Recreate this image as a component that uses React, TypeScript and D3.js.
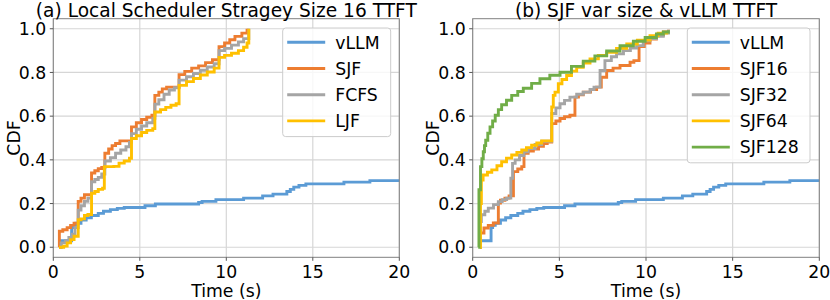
import React from 'react';
import * as d3 from 'd3';

type Pt = [number, number];

const xTicks = [0, 5, 10, 15, 20];
const yTicks = [0, 0.2, 0.4, 0.6, 0.8, 1.0];

// step points: [time (s), cdf]
const vllm: Pt[] = [
  [0.42, 0], [0.45, 0.03], [1.06, 0.09], [1.15, 0.1], [1.3, 0.11], [1.6, 0.125],
  [1.9, 0.135], [2.2, 0.145], [2.6, 0.155], [2.9, 0.165], [3.3, 0.172], [3.7, 0.178],
  [4.1, 0.182], [5.3, 0.19], [5.9, 0.198], [8.4, 0.205], [8.6, 0.21], [9.4, 0.218],
  [11.0, 0.225], [12.1, 0.235], [12.7, 0.243], [13.5, 0.255], [13.7, 0.265],
  [13.9, 0.275], [14.2, 0.283], [14.6, 0.29], [16.8, 0.298], [18.3, 0.305], [21, 0.305],
];

const leftSJF: Pt[] = [
  [0.33, 0], [0.35, 0.073], [0.55, 0.08], [0.8, 0.09], [1.0, 0.1], [1.2, 0.11],
  [1.44, 0.21], [1.6, 0.225], [1.8, 0.24], [2.21, 0.34], [2.4, 0.35], [2.6, 0.36],
  [2.8, 0.365], [2.98, 0.43], [3.2, 0.45], [3.4, 0.465], [3.6, 0.475], [3.85, 0.487],
  [4.52, 0.551], [4.8, 0.57], [5.1, 0.585], [5.4, 0.595], [5.7, 0.604],
  [5.87, 0.695], [6.1, 0.71], [6.3, 0.725], [6.55, 0.733],
  [7.27, 0.79], [7.6, 0.805], [8.0, 0.82], [8.4, 0.83], [8.8, 0.845], [9.2, 0.858],
  [9.58, 0.918], [9.9, 0.935], [10.2, 0.95], [10.5, 0.965], [10.9, 0.98], [11.2, 1.0],
];

const leftFCFS: Pt[] = [
  [0.4, 0], [0.45, 0.02], [0.7, 0.03], [0.9, 0.045], [1.1, 0.06], [1.25, 0.09],
  [1.44, 0.17], [1.6, 0.19], [1.8, 0.21], [2.0, 0.225], [2.21, 0.3], [2.4, 0.31],
  [2.6, 0.32], [2.8, 0.335], [2.98, 0.395], [3.3, 0.41], [3.6, 0.43], [3.9, 0.445],
  [4.2, 0.46], [4.4, 0.48], [4.52, 0.52], [4.8, 0.54], [5.1, 0.555], [5.4, 0.57],
  [5.75, 0.59], [5.87, 0.655], [6.1, 0.675], [6.4, 0.7], [6.7, 0.72], [7.0, 0.73],
  [7.27, 0.765], [7.7, 0.78], [8.1, 0.795], [8.5, 0.81], [8.9, 0.825], [9.3, 0.84],
  [9.58, 0.9], [9.9, 0.91], [10.3, 0.925], [10.7, 0.94], [11.0, 0.955], [11.3, 1.0],
];

const leftLJF: Pt[] = [
  [0.33, 0], [0.6, 0.005], [0.8, 0.02], [1.0, 0.035], [1.2, 0.05],
  [1.44, 0.126], [1.6, 0.13], [1.8, 0.145], [2.0, 0.15],
  [2.21, 0.247], [2.4, 0.255], [2.6, 0.265], [2.85, 0.27],
  [2.95, 0.369], [3.5, 0.37], [3.8, 0.385], [4.1, 0.395], [4.4, 0.407],
  [4.52, 0.498], [4.8, 0.51], [5.1, 0.525], [5.4, 0.535], [5.75, 0.543],
  [5.87, 0.619], [6.2, 0.63], [6.5, 0.64], [6.8, 0.65], [7.1, 0.657],
  [7.27, 0.741], [7.7, 0.758], [8.1, 0.772], [8.5, 0.788], [8.9, 0.802], [9.3, 0.82],
  [9.58, 0.869], [9.9, 0.878], [10.3, 0.888], [10.7, 0.9], [11.0, 0.915], [11.2, 0.935],
  [11.3, 1.0],
];

const sjf16: Pt[] = [
  [0.42, 0], [0.45, 0.065], [0.65, 0.088], [0.9, 0.1], [1.19, 0.111],
  [1.48, 0.202], [1.6, 0.215], [1.86, 0.225], [2.1, 0.235],
  [2.35, 0.346], [2.6, 0.358], [2.83, 0.369], [2.96, 0.43], [3.2, 0.44],
  [3.5, 0.45], [3.8, 0.462], [4.08, 0.475], [4.3, 0.482], [4.56, 0.566],
  [4.8, 0.578], [5.04, 0.589], [5.3, 0.597], [5.61, 0.604], [5.9, 0.687],
  [6.1, 0.698], [6.38, 0.71], [6.8, 0.722], [7.15, 0.733], [7.42, 0.778],
  [7.73, 0.809], [8.1, 0.82], [8.5, 0.832], [9.08, 0.847], [9.3, 0.854],
  [9.6, 0.918], [9.9, 0.935], [10.23, 0.953], [10.6, 0.97], [11.0, 0.985], [11.3, 0.995],
];

const sjf32: Pt[] = [
  [0.42, 0], [0.45, 0.118], [0.5, 0.149], [0.7, 0.165], [0.9, 0.179], [1.2, 0.195],
  [1.48, 0.209], [1.7, 0.218], [1.96, 0.225], [2.2, 0.316], [2.3, 0.384],
  [2.45, 0.4], [2.7, 0.42], [2.95, 0.437], [3.2, 0.452], [3.6, 0.47], [3.98, 0.485],
  [4.56, 0.612], [4.8, 0.638], [5.04, 0.657], [5.3, 0.672], [5.61, 0.687],
  [6.0, 0.7], [6.38, 0.71], [6.77, 0.722], [7.0, 0.733], [7.35, 0.809],
  [7.63, 0.854], [8.0, 0.872], [8.3, 0.885], [8.7, 0.9], [9.1, 0.912], [9.46, 0.923],
  [9.84, 0.945], [10.23, 0.955], [10.6, 0.965], [11.0, 0.98], [11.3, 0.995],
];

const sjf64: Pt[] = [
  [0.42, 0], [0.45, 0.2], [0.5, 0.308], [0.6, 0.331], [0.85, 0.343], [1.1, 0.354],
  [1.4, 0.373], [1.67, 0.391], [1.95, 0.408], [2.25, 0.422], [2.55, 0.434],
  [2.83, 0.445], [3.1, 0.456], [3.4, 0.467], [3.7, 0.477], [3.98, 0.487],
  [4.56, 0.642], [4.65, 0.695], [4.75, 0.71], [4.94, 0.748], [5.15, 0.768],
  [5.42, 0.786], [5.7, 0.806], [6.0, 0.824], [6.38, 0.843], [6.77, 0.862],
  [7.25, 0.878], [7.73, 0.892], [8.3, 0.91], [8.89, 0.93], [9.5, 0.948],
  [10.23, 0.968], [10.7, 0.98], [11.2, 0.99],
];

const sjf128: Pt[] = [
  [0.32, 0], [0.36, 0.263], [0.45, 0.369], [0.53, 0.405], [0.61, 0.437],
  [0.68, 0.465], [0.75, 0.49], [0.87, 0.522], [1.0, 0.551], [1.15, 0.578],
  [1.3, 0.604], [1.48, 0.63], [1.67, 0.652], [1.95, 0.673], [2.25, 0.695],
  [2.6, 0.713], [2.92, 0.728], [3.4, 0.75], [3.88, 0.771], [4.45, 0.787],
  [5.04, 0.801], [5.7, 0.828], [6.38, 0.852], [7.05, 0.876], [7.73, 0.898],
  [8.5, 0.922], [9.27, 0.943], [9.95, 0.96], [10.6, 0.976], [11.0, 0.985], [11.29, 0.993],
];

const C = {
  vllm: '#5b9bd5', orange: '#ed7d31', gray: '#a5a5a5', yellow: '#ffc000', green: '#70ad47',
};

const leftSeries = [
  { name: 'vLLM', color: C.vllm, data: vllm },
  { name: 'SJF', color: C.orange, data: leftSJF },
  { name: 'FCFS', color: C.gray, data: leftFCFS },
  { name: 'LJF', color: C.yellow, data: leftLJF },
];

const rightSeries = [
  { name: 'vLLM', color: C.vllm, data: vllm },
  { name: 'SJF16', color: C.orange, data: sjf16 },
  { name: 'SJF32', color: C.gray, data: sjf32 },
  { name: 'SJF64', color: C.yellow, data: sjf64 },
  { name: 'SJF128', color: C.green, data: sjf128 },
];

const font = '"DejaVu Sans", sans-serif';
const fs = 17.3;
const top = 18.7;
const bottom = 257.3;

interface PanelProps {
  id: string;
  title: string;
  left: number;
  right: number;
  series: { name: string; color: string; data: Pt[] }[];
  legendX: number;
  legendW: number;
}

const Panel: React.FC<PanelProps> = ({ id, title, left, right, series, legendX, legendW }) => {
  const x = d3.scaleLinear().domain([0, 20]).range([left, right]);
  const y = d3.scaleLinear().domain([-0.046, 1.046]).range([bottom, top]);
  const line = d3.line<Pt>().x(d => x(d[0])).y(d => y(d[1])).curve(d3.curveStepAfter);
  const rowH = 26.2;
  const legTop = 28;
  const legH = 14.3 + rowH * (series.length - 1) + 15.7;

  return (
    <g>
      <defs>
        <clipPath id={id}>
          <rect x={left} y={top} width={right - left} height={bottom - top} />
        </clipPath>
      </defs>
      {xTicks.map(t => (
        <line key={'gx' + t} x1={x(t)} x2={x(t)} y1={top} y2={bottom} stroke="#d6d6d6" strokeWidth={1.2} />
      ))}
      {yTicks.map(t => (
        <line key={'gy' + t} x1={left} x2={right} y1={y(t)} y2={y(t)} stroke="#d6d6d6" strokeWidth={1.2} />
      ))}
      <g clipPath={`url(#${id})`}>
        {series.map(s => (
          <path key={s.name} d={line(s.data) ?? ''} fill="none" stroke={s.color} strokeWidth={2.9} strokeLinejoin="miter" />
        ))}
      </g>
      <rect x={left} y={top} width={right - left} height={bottom - top} fill="none" stroke="#808080" strokeWidth={1} />
      {xTicks.map(t => (
        <g key={'tx' + t}>
          <line x1={x(t)} x2={x(t)} y1={bottom} y2={bottom + 3.5} stroke="#555" />
          <text x={x(t)} y={278.3} textAnchor="middle" fontSize={fs} fontFamily={font}>{t}</text>
        </g>
      ))}
      {yTicks.map(t => (
        <g key={'ty' + t}>
          <line x1={left - 3.5} x2={left} y1={y(t)} y2={y(t)} stroke="#555" />
          <text x={left - 7} y={y(t) + 6.2} textAnchor="end" fontSize={fs} fontFamily={font}>{t.toFixed(1)}</text>
        </g>
      ))}
      <text x={(left + right) / 2} y={16.6} textAnchor="middle" fontSize={18.6} fontFamily={font}>{title}</text>
      <text x={(left + right) / 2} y={296.6} textAnchor="middle" fontSize={fs} fontFamily={font}>Time (s)</text>
      <text transform={`translate(${left - 33.3},${(top + bottom) / 2}) rotate(-90)`} textAnchor="middle" fontSize={fs} fontFamily={font}>CDF</text>
      <rect x={legendX} y={legTop} width={legendW} height={legH} rx={3} fill="white" fillOpacity={0.8} stroke="#cccccc" />
      {series.map((s, i) => {
        const cy = legTop + 14.3 + i * rowH;
        return (
          <g key={'lg' + s.name}>
            <line x1={legendX + 4.5} x2={legendX + 42.5} y1={cy} y2={cy} stroke={s.color} strokeWidth={2.9} />
            <text x={legendX + 52.5} y={cy + 6.2} fontSize={fs} fontFamily={font}>{s.name}</text>
          </g>
        );
      })}
    </g>
  );
};

export default function App() {
  return (
    <svg width={830} height={300} style={{ position: 'absolute', left: 0, top: 0, background: 'white' }}>
      <Panel id="cpA" title="(a) Local Scheduler Stragey Size 16 TTFT" left={53.3} right={399.3}
        series={leftSeries} legendX={282.7} legendW={108} />
      <Panel id="cpB" title="(b) SJF var size & vLLM TTFT" left={472.7} right={819.3}
        series={rightSeries} legendX={687.3} legendW={122.7} />
    </svg>
  );
}
